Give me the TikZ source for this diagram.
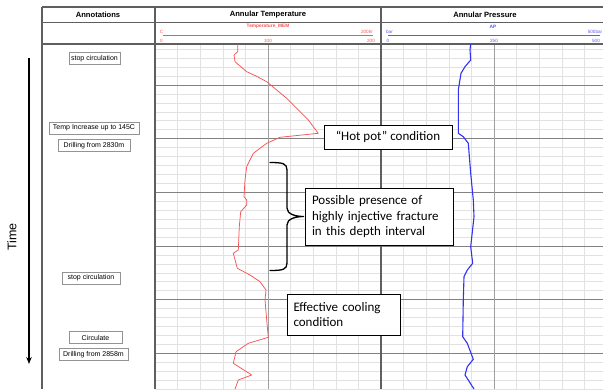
\documentclass[tikz,border=0pt]{standalone}
\usepackage{fontspec}
\setmainfont{Liberation Sans}
\newfontfamily\callfont{Carlito}
\usetikzlibrary{arrows.meta}
\definecolor{tred}{RGB}{245,85,85}
\definecolor{tblue}{RGB}{50,50,240}
\definecolor{minorg}{RGB}{226,226,226}
\definecolor{majorg}{RGB}{130,130,130}
\definecolor{borderg}{RGB}{95,95,95}
\begin{document}
\begin{tikzpicture}[x=1pt,y=-1pt,
  annot/.style={draw=gray!85, line width=0.6pt, fill=white, font=\fontsize{7}{8}\selectfont, inner xsep=1.5pt, inner ysep=0pt, minimum height=12pt},
  callout/.style={draw=black, line width=0.9pt, fill=white, font=\callfont\fontsize{13}{15.8}\selectfont, align=left, inner ysep=0pt},
  hdr/.style={font=\bfseries\fontsize{7.6}{8}\selectfont},
  tiny/.style={font=\fontsize{4.6}{5}\selectfont, inner sep=0pt},
  border/.style={draw=borderg, line width=1.1pt}
]
\useasboundingbox (0,0) rectangle (603,389);
\fill[white] (0,0) rectangle (603,389);
\begin{scope}
\clip (0,0) rectangle (603,389);
% minor grid
\foreach \i in {0,...,38} \draw[minorg, line width=0.6pt] (155,{49.2+8.944*\i}) -- (607,{49.2+8.944*\i});
\foreach \i in {1,...,19} \draw[minorg, line width=0.6pt] ({155+22.6*\i},44) -- ({155+22.6*\i},389);
% major grid
\foreach \i in {0,...,5} \draw[majorg, line width=0.9pt] (155,{85+53.67*\i}) -- (607,{85+53.67*\i});
\draw[gray!75, line width=0.9pt] (268,44) -- (268,389);
\draw[gray!75, line width=0.9pt] (494,44) -- (494,389);
% table borders
\draw[border] (42,7) -- (607,7);
\draw[border] (42,22.3) -- (607,22.3);
\draw[border] (42,44) -- (607,44);
\draw[border] (42,7) -- (42,389);
\draw[border] (155,7) -- (155,389);
\draw[border] (381,7) -- (381,389);

% temperature curve
\draw[tred, line width=0.75pt, line join=round] (237.7,44) -- (237.7,51.7) -- (234,55) -- (235,61.7) -- (246.7,71.7) -- (256,76) -- (266.7,81.7) -- (276.7,90) -- (286.7,98.3) -- (296.7,108.3) -- (308.3,120) -- (318.3,133.3) -- (280,137.3) -- (266.7,143.3) -- (253.3,153.3) -- (246.7,166.7) -- (245,180) -- (244,196.7) -- (246.7,200) -- (246.7,205) -- (240.7,211.7) -- (239.3,226.7) -- (238.3,250) -- (233.3,253.3) -- (237.3,268.3) -- (250,275) -- (260,281.7) -- (266,290) -- (265,300) -- (266.7,320) -- (268.3,337.3) -- (248.3,343.3) -- (236,351.7) -- (233.3,363.3) -- (251.7,375) -- (238.3,380) -- (235,389);
% pressure curve
\draw[tblue, line width=1.1pt, line join=round] (470.7,44) -- (470,50) -- (470.7,60) -- (465,66.7) -- (461,73.3) -- (458.3,90) -- (458.3,133.3) -- (463.3,136.7) -- (468.3,143.3) -- (470.7,173.3) -- (473.3,200) -- (474,216.7) -- (470.7,246.7) -- (472.7,263.3) -- (467.3,270) -- (464,276.7) -- (463.3,300) -- (462.7,336.7) -- (467.3,343.3) -- (473.3,359.3) -- (467.3,366.7) -- (465,375) -- (474,389);
\end{scope}

% headers
\node[hdr] (hA) at (98,15) {Annotations};
\node[hdr] (hT) at (268,15) {Annular Temperature};
\node[hdr] (hP) at (485,15) {Annular Pressure};

% temperature scale
\coordinate (tl) at (163,35.7);
\coordinate (tr) at (373,35.7);
\draw[tred, line width=1.2pt] (tl) -- (tr);
\node[tiny, text=tred, font=\bfseries\fontsize{4.8}{5}\selectfont] (tname) at (268,26.5) {Temperature\_MEM};
\node[tiny, text=tred] (tunit) at (161.5,31.5) {C};
\node[tiny, text=tred] (t0) at (161.5,40.8) {0};
\node[tiny, text=tred] (t100) at (268,40.8) {100};
\node[tiny, text=tred] (t200) at (371,40.8) {200};
\node[tiny, text=tred] (t200h) at (367,31.5) {200hr};

% pressure scale
\coordinate (pl) at (388,35.7);
\coordinate (pr) at (600,35.7);
\draw[tblue!80, line width=1.2pt] (pl) -- (pr);
\node[tiny, text=tblue!80, font=\bfseries\fontsize{4.8}{5}\selectfont] (pname) at (493,27) {AP};
\node[tiny, text=tblue!80] (punit) at (389.5,31.5) {bar};
\node[tiny, text=tblue!80] (p0) at (388,40.8) {0};
\node[tiny, text=tblue!80] (p250) at (494,40.8) {250};
\node[tiny, text=tblue!80] (p500) at (596,40.8) {500};
\node[tiny, text=tblue!80] (p500b) at (595,31.5) {500bar};

% annotations
\node[annot, minimum width=51pt] (a1) at (94.5,58.5) {stop circulation};
\node[annot, minimum width=90pt] (a2) at (94,128) {Temp Increase up to 145C};
\node[annot, minimum width=72pt] (a3) at (94,145.5) {Drilling from 2830m};
\node[annot, minimum width=58pt] (a4) at (91,278) {stop circulation};
\node[annot, minimum width=53pt] (a5) at (95.5,337.5) {Circulate};
\node[annot, minimum width=69pt] (a6) at (93.5,354.5) {Drilling from 2858m};

% time arrow
\coordinate (ts) at (29,58);
\coordinate (te) at (29,364);
\draw[line width=1.3pt, -{Stealth[length=7pt,width=5.5pt]}] (ts) -- (te);
\node[rotate=90, font=\fontsize{12.5}{14}\selectfont] (time) at (12,237) {Time};

% brace
\draw[line width=1.3pt, line cap=round] (270,162.5) .. controls (283,162.5) and (287,163.5) .. (287,170) -- (287,208) .. controls (287,214) and (295,216.5) .. (304,216.5) .. controls (295,216.5) and (287,219) .. (287,225) -- (287,263) .. controls (287,269.5) and (283,270.5) .. (270,270.5);

% callouts
\node[callout, minimum width=128pt, minimum height=24.5pt, align=center, inner xsep=3pt] (c1) at (388,137.2) {“Hot pot” condition};
\node[callout, minimum width=148pt, minimum height=57pt, text width=134pt, inner xsep=7pt] (c2) at (379,216.6) {Possible presence of\\highly injective fracture\\in this depth interval};
\node[callout, minimum width=113pt, minimum height=41pt, text width=100pt, inner xsep=6.5pt] (c3) at (343.5,314.5) {Effective cooling\\condition};
\end{tikzpicture}
\end{document}
